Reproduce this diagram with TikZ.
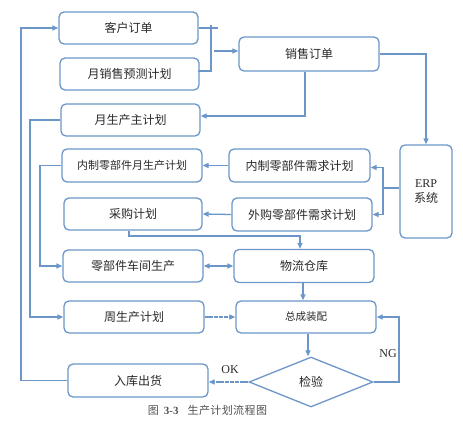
\documentclass[tikz,border=0pt]{standalone}
\usepackage{fontspec}
\setmainfont{Liberation Serif}
\newfontfamily\cjk{Noto Sans CJK SC}
\usetikzlibrary{arrows.meta,shapes.geometric}
\definecolor{lc}{RGB}{108,150,200}
\definecolor{tc}{RGB}{40,40,40}
\definecolor{cc}{RGB}{80,80,80}
\tikzset{
  box/.style={draw=lc, line width=1.3pt, rounded corners=5pt, inner sep=0pt, text=tc,
     font=\cjk\fontsize{12}{14}\selectfont},
  sbox/.style={box, font=\cjk\fontsize{11}{12}\selectfont},
  conn/.style={draw=lc, line width=1.3pt},
  arr/.style={conn, -{Triangle[length=6pt,width=5pt]}},
  darr/.style={conn, {Triangle[length=6pt,width=5pt]}-{Triangle[length=6pt,width=5pt]}},
  dsh/.style={dash pattern=on 4pt off 0.8pt},
  lbl/.style={text=tc, font=\fontsize{12}{14}\selectfont, inner sep=0pt}
}
\begin{document}
\begin{tikzpicture}[x=1pt,y=-1pt]
\useasboundingbox (0,0) rectangle (463,427);
% boxes
\node[box, minimum width=139pt, minimum height=32pt] (kh) at (128.5,28) {客户订单};
\node[box, minimum width=139pt, minimum height=32pt] (yx) at (129.5,74) {月销售预测计划};
\node[box, minimum width=139pt, minimum height=32pt] (yz) at (130.5,120) {月生产主计划};
\node[box, minimum width=140pt, minimum height=34pt] (xs) at (309,54) {销售订单};
\node[box, minimum width=52pt, minimum height=93pt, align=center] (erp) at (426,191.5) {{\rmfamily ERP}\\[1pt]系统};
\node[box, minimum width=141pt, minimum height=33pt] (nx) at (299.5,165.5) {内制零部件需求计划};
\node[box, minimum width=140pt, minimum height=33pt] (wg) at (302,214.5) {外购零部件需求计划};
\node[sbox, minimum width=140pt, minimum height=33pt] (ny) at (132,165.5) {内制零部件月生产计划};
\node[box, minimum width=138pt, minimum height=32pt] (cg) at (133,214) {采购计划};
\node[box, minimum width=140pt, minimum height=32pt] (lb) at (133,266) {零部件车间生产};
\node[box, minimum width=140pt, minimum height=33pt] (wl) at (304,266) {物流仓库};
\node[box, minimum width=140pt, minimum height=32pt] (zs) at (134,317) {周生产计划};
\node[box, font=\cjk\fontsize{10.5}{12}\selectfont, minimum width=140pt, minimum height=32pt] (zc) at (306,317) {总成装配};
\node[box, diamond, rounded corners=0pt, minimum width=124pt, minimum height=50pt] (jy) at (311,382) {检验};
\node[box, minimum width=140pt, minimum height=33pt] (rk) at (138,380.5) {入库出货};
% bracket for orders
\coordinate (bt) at (211,25);
\coordinate (bb) at (211,71);
\coordinate (bm) at (214,51);
\draw[conn] (kh.east) -- ++(19,0);
\draw[conn] (bt) -- (bb) -- ([xshift=-2pt,yshift=3pt]yx.east);
\draw[arr] (bm) -- (bm -| xs.west);
% sales order connections
\draw[arr] ([xshift=-4pt]xs.south) |- ([yshift=4pt]yz.east);
\draw[arr] (xs.east) -| (erp.north);
% ERP split
\coordinate (ej) at (383,188);
\draw[conn] (erp.west |- ej) -- (ej);
\draw[arr] (ej) |- ([yshift=-2pt]nx.east);
\draw[arr] (ej) |- (wg.east);
% requirement to plans
\draw[arr] (nx.west) -- (ny.east);
\draw[arr] (wg.west) -- (cg.east);
% purchase to warehouse
\coordinate (cgd) at (129,236);
\draw[arr] (cgd |- cg.south) -- (cgd) -| ([xshift=-4pt]wl.north);
\draw[darr] (lb.east) -- (wl.west);
\draw[arr] ([xshift=-1pt]wl.south) -- ([xshift=-1pt]wl.south |- zc.north);
\draw[arr, dsh] (zs.east) -- (zc.west);
\draw[arr] ([xshift=2pt]zc.south) -- ([xshift=2pt]zc.south |- jy.north);
% inspection
\coordinate (ng) at (399,382);
\draw[arr] (jy.east) -- (ng) |- (zc.east);
\node[lbl] (ngl) at (388,354) {NG};
\draw[arr, dsh] (jy.west) -- (jy.west -| rk.east);
\node[lbl] (okl) at (230,370) {OK};
% left feedback lines
\coordinate (lo) at (21,380.5);
\draw[arr] (rk.west) -- (lo) |- (kh.west);
\coordinate (lm) at (30,120);
\draw[arr] (yz.west) -- (lm) |- (zs.west);
\coordinate (li) at (40,165.5);
\draw[arr] (ny.west) -- (li) |- (lb.west);
% caption
\node[text=cc, inner sep=0pt, font=\cjk\fontsize{11}{12}\selectfont] (cap) at (207.5,410) {图\hspace{5pt}{\rmfamily\bfseries 3-3}\hspace{9pt}生\hspace{0.4pt}产\hspace{0.4pt}计\hspace{0.4pt}划\hspace{0.4pt}流\hspace{0.4pt}程\hspace{0.4pt}图};
\end{tikzpicture}
\end{document}
